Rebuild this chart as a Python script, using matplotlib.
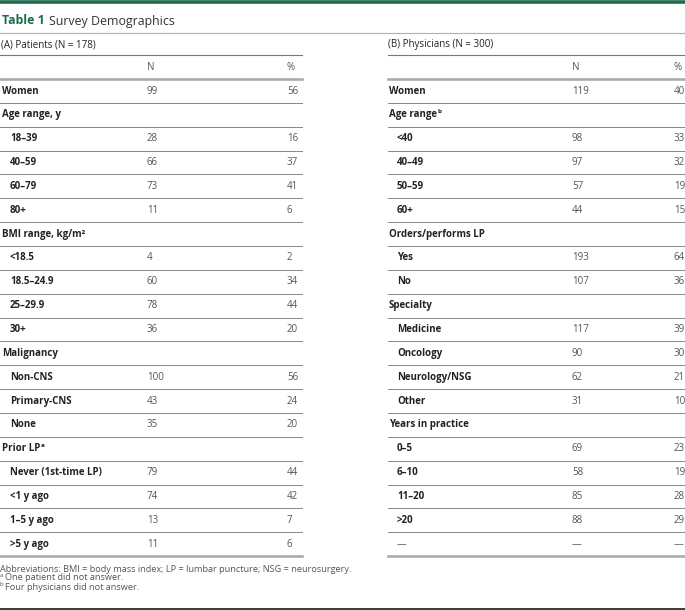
import matplotlib
matplotlib.use("Agg")
import matplotlib.pyplot as plt
from matplotlib import font_manager as fm

plt.rcParams['font.family'] = ['Open Sans', 'DejaVu Sans']

# (A) Patients
pat_labels = ["Women", "Age range, y", "18–39", "40–59", "60–79", "80+",
              "BMI range, kg/m²", "<18.5", "18.5–24.9", "25–29.9", "30+",
              "Malignancy", "Non-CNS", "Primary-CNS", "None",
              "Prior LP", "Never (1st-time LP)", "<1 y ago", "1–5 y ago", ">5 y ago"]
pat_sup = ["", "", "", "", "", "", "", "", "", "", "", "", "", "", "", "a", "", "", "", ""]
pat_indent = [0, 0, 1, 1, 1, 1, 0, 1, 1, 1, 1, 0, 1, 1, 1, 0, 1, 1, 1, 1]
pat_n = ["99", "", "28", "66", "73", "11", "", "4", "60", "78", "36",
         "", "100", "43", "35", "", "79", "74", "13", "11"]
pat_pct = ["56", "", "16", "37", "41", "6", "", "2", "34", "44", "20",
           "", "56", "24", "20", "", "44", "42", "7", "6"]

# (B) Physicians
phy_labels = ["Women", "Age range", "<40", "40–49", "50–59", "60+",
              "Orders/performs LP", "Yes", "No", "Specialty", "Medicine",
              "Oncology", "Neurology/NSG", "Other", "Years in practice",
              "0–5", "6–10", "11–20", ">20", "—"]
phy_sup = ["", "b", "", "", "", "", "", "", "", "", "", "", "", "", "", "", "", "", "", ""]
phy_indent = [0, 0, 1, 1, 1, 1, 0, 1, 1, 0, 1, 1, 1, 1, 0, 1, 1, 1, 1, 1]
phy_n = ["119", "", "98", "97", "57", "44", "", "193", "107", "", "117",
         "90", "62", "31", "", "69", "58", "85", "88", "—"]
phy_pct = ["40", "", "33", "32", "19", "15", "", "64", "36", "", "39",
           "30", "21", "10", "", "23", "19", "28", "29", "—"]

footnotes = ["Abbreviations: BMI = body mass index; LP = lumbar puncture; NSG = neurosurgery.",
             "One patient did not answer.",
             "Four physicians did not answer."]
foot_marks = ["", "a", "b"]

# bold Open Sans face (not the condensed one)
bold_file = None
for f in fm.fontManager.ttflist:
    if f.fname.endswith('OpenSans-Bold.ttf'):
        bold_file = f.fname
if bold_file:
    BOLD = dict(fontproperties=fm.FontProperties(fname=bold_file))
else:
    BOLD = dict(fontweight='semibold')

W, H = 685, 610
fig = plt.figure(figsize=(W / 100, H / 100), dpi=100)
ax = fig.add_axes([0, 0, 1, 1])
ax.set_xlim(0, W)
ax.set_ylim(H, 0)
ax.axis('off')

GREEN = '#1d6b48'
LBL = '#222222'
NUM = '#555555'
FS = 7.0
PX = 0.72

renderer = fig.canvas.get_renderer()
inv = ax.transData.inverted()


def btext(x, y, s, size, color, **kw):
    t = ax.text(x, y, s, color=color, va='center', **BOLD, **kw)
    t.set_fontsize(size)
    return t


def right_edge(t):
    bb = t.get_window_extent(renderer=renderer)
    return inv.transform((bb.x1, bb.y0))[0]


def add_sup(t, mark, size, color, dy=-3.5):
    x1 = right_edge(t)
    btext(x1 + 0.5, t.get_position()[1] + dy, mark, size * 0.65, color)


# top bar and title
ax.plot([0, W], [1.6, 1.6], color=GREEN, lw=3.6 * PX, solid_capstyle='butt')
t1 = btext(2, 21, "Table 1", 8.9, GREEN)
ax.text(right_edge(t1) + 4, 21, "Survey Demographics", fontsize=8.9, color='#333333', va='center')
ax.plot([0, W], [32.5, 32.5], color='#9dbfae', lw=1.2 * PX)

y0, step = 91, 23.85

tables = [
    dict(x0=0, x1=302, lx=2, ix=10, nx=147, px=287, title="(A) Patients (N = 178)",
         labels=pat_labels, sup=pat_sup, indent=pat_indent, n=pat_n, pct=pat_pct),
    dict(x0=388, x1=W, lx=389, ix=397, nx=572, px=674, title="(B) Physicians (N = 300)",
         labels=phy_labels, sup=phy_sup, indent=phy_indent, n=phy_n, pct=phy_pct),
]

for tb in tables:
    ax.text(tb['lx'] - 1, 45, tb['title'], fontsize=FS, color=LBL, va='center')
    ax.plot([tb['x0'], tb['x1']], [54.5, 54.5], color='#777777', lw=1.1 * PX)
    ax.text(tb['nx'], 67, "N", fontsize=FS, color=NUM, va='center')
    ax.text(tb['px'], 67, "%", fontsize=FS, color=NUM, va='center')
    ax.plot([tb['x0'], tb['x1']], [y0 - step / 2, y0 - step / 2], color='#aaaaaa', lw=2.6 * PX)
    nrows = len(tb['labels'])
    for i in range(nrows):
        y = y0 + i * step
        x = tb['ix'] if tb['indent'][i] else tb['lx']
        lab = tb['labels'][i]
        if lab == "—":
            t = ax.text(x, y, lab, fontsize=FS, color=NUM, va='center')
        else:
            t = btext(x, y, lab, FS, LBL)
        if tb['sup'][i]:
            add_sup(t, tb['sup'][i], FS, LBL)
        ax.text(tb['nx'], y, tb['n'][i], fontsize=FS, color=NUM, va='center')
        ax.text(tb['px'], y, tb['pct'][i], fontsize=FS, color=NUM, va='center')
        yl = y + step / 2
        if i < nrows - 1:
            ax.plot([tb['x0'], tb['x1']], [yl, yl], color='#8a8a8a', lw=1.0 * PX)
        else:
            ax.plot([tb['x0'], tb['x1']], [yl, yl], color='#aaaaaa', lw=2.6 * PX)

# footnotes
fy = [569, 578, 587]
for mark, txt, y in zip(foot_marks, footnotes, fy):
    if mark:
        ax.text(0, y - 2.5, mark, fontsize=4.4, color=NUM, va='center')
        ax.text(5, y, txt, fontsize=6.6, color=NUM, va='center')
    else:
        ax.text(0, y, txt, fontsize=6.6, color=NUM, va='center')

ax.plot([0, W], [608.8, 608.8], color='#111111', lw=1.6 * PX)

fig.savefig('out.png', dpi=100)
